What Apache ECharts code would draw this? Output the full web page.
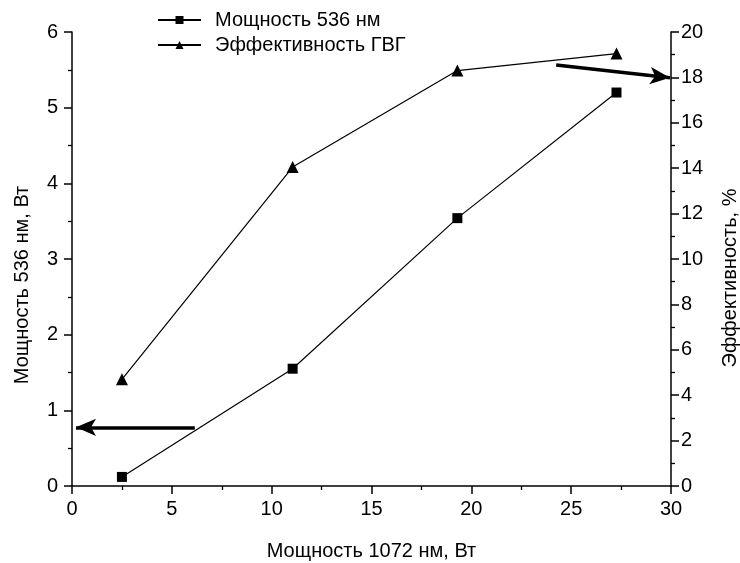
<!DOCTYPE html>
<html>
<head>
<meta charset="utf-8">
<script src="https://cdn.jsdelivr.net/npm/echarts@6/dist/echarts.min.js"></script>
<style>
html,body{margin:0;padding:0;background:#fff;}
#main{width:740px;height:563px;}
</style>
</head>
<body>
<div id="main"></div>
<script>
// Data
var xValues = [2.5, 11.05, 19.3, 27.27];
var power536 = [0.12, 1.55, 3.54, 5.2];
var efficiency = [4.7, 14.05, 18.3, 19.05];
var seriesNames = ['Мощность 536 нм', 'Эффективность ГВГ'];
var leftArrow = [[6.15, 0.775], [0.2, 0.775]];
var rightArrow = [[24.25, 18.55], [29.95, 17.98]];

var FONT = 'Liberation Sans, Arial, sans-serif';
var black = '#000';

function pairs(xs, ys) {
  return xs.map(function (x, i) { return [x, ys[i]]; });
}

var axisCommon = {
  axisLine: { show: true, lineStyle: { color: black, width: 1.5 } },
  axisTick: { show: true, inside: false, length: 8, lineStyle: { color: black, width: 1.5 } },
  minorTick: { show: true, splitNumber: 2, length: 4, lineStyle: { color: black, width: 1.3 } },
  splitLine: { show: false },
  axisLabel: { color: black, fontFamily: FONT, fontSize: 20 },
  nameTextStyle: { color: black, fontFamily: FONT, fontSize: 20 }
};

function merge(a, b) {
  var o = {};
  for (var k in a) o[k] = a[k];
  for (var k2 in b) {
    if (typeof b[k2] === 'object' && !Array.isArray(b[k2]) && o[k2] && typeof o[k2] === 'object') {
      var m = {};
      for (var j in o[k2]) m[j] = o[k2][j];
      for (var j2 in b[k2]) m[j2] = b[k2][j2];
      o[k2] = m;
    } else o[k2] = b[k2];
  }
  return o;
}

var chart = echarts.init(document.getElementById('main'));
chart.setOption({
  backgroundColor: '#fff',
  animation: false,
  grid: { left: 72, right: 69, top: 32, bottom: 77, containLabel: false, outerBoundsMode: 'none' },
  legend: {
    orient: 'vertical',
    left: 157,
    top: 10,
    padding: 0,
    itemWidth: 43,
    itemHeight: 10,
    itemGap: 5,
    textStyle: { color: black, fontFamily: FONT, fontSize: 20, padding: [0, 0, 0, 9] },
    data: seriesNames
  },
  xAxis: merge(axisCommon, {
    type: 'value', min: 0, max: 30, interval: 5,
    name: 'Мощность 1072 нм, Вт', nameLocation: 'middle', nameGap: 55,
    axisLabel: { margin: 13 }
  }),
  yAxis: [
    merge(axisCommon, {
      type: 'value', min: 0, max: 6, interval: 1, position: 'left',
      name: 'Мощность 536 нм, Вт', nameLocation: 'middle', nameGap: 40, nameRotate: 90,
      axisLabel: { margin: 14 },
      nameTextStyle: { padding: [0, 52, 0, 0] }
    }),
    merge(axisCommon, {
      type: 'value', min: 0, max: 20, interval: 2, position: 'right',
      name: 'Эффективность, %', nameLocation: 'middle', nameGap: 49, nameRotate: 90,
      axisLabel: { margin: 10 },
      nameTextStyle: { padding: [0, 38, 0, 0] }
    })
  ],
  series: [
    {
      name: seriesNames[0], type: 'line', yAxisIndex: 0,
      data: pairs(xValues, power536),
      symbol: 'rect', symbolSize: 10,
      lineStyle: { color: black, width: 1.2 },
      itemStyle: { color: black },
      markLine: {
        silent: true, symbol: ['none', 'arrow'], symbolSize: [13, 20],
        label: { show: false },
        lineStyle: { color: black, width: 3.5, type: 'solid' },
        data: [[{ coord: leftArrow[0] }, { coord: leftArrow[1] }]]
      }
    },
    {
      name: seriesNames[1], type: 'line', yAxisIndex: 1,
      data: pairs(xValues, efficiency),
      symbol: 'triangle', symbolSize: 12,
      lineStyle: { color: black, width: 1.2 },
      itemStyle: { color: black },
      markLine: {
        silent: true, symbol: ['none', 'arrow'], symbolSize: [13, 20],
        label: { show: false },
        lineStyle: { color: black, width: 3.5, type: 'solid' },
        data: [[{ coord: rightArrow[0] }, { coord: rightArrow[1] }]]
      }
    }
  ]
});
</script>
</body>
</html>
